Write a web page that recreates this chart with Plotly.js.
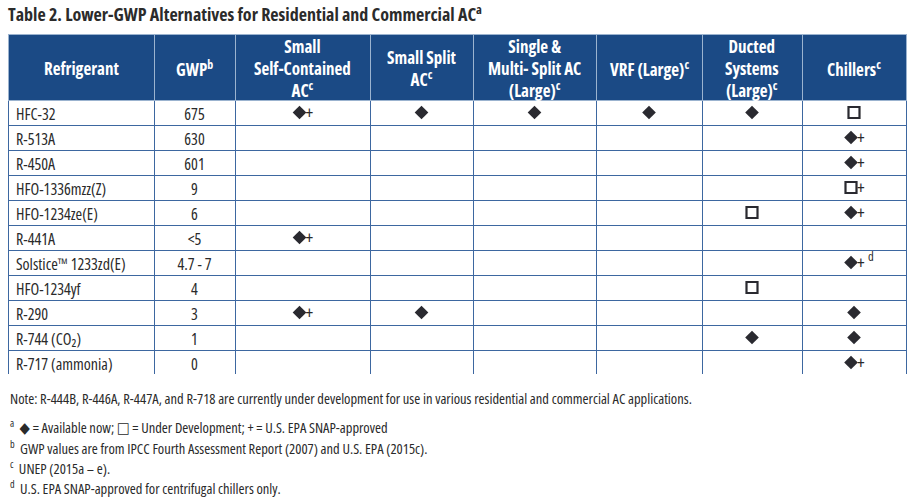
<!DOCTYPE html>
<html>
<head>
<meta charset="utf-8">
<script src="https://cdn.plot.ly/plotly-3.0.1.min.js"></script>
<style>
html,body{margin:0;padding:0;background:#fff;}
#chart{width:912px;height:500px;}
text{font-stretch:75% !important;}
text.cell-text, .cell-text text{font-stretch:87.5% !important;}
</style>
</head>
<body>
<div id="chart"></div>
<script>
// ---- data ----
const headers = ["Refrigerant", "GWP<sup>b</sup>", "Small<br>Self-Contained<br>AC<sup>c</sup>", "Small Split<br>AC<sup>c</sup>",
  "Single &amp;<br>Multi- Split AC<br>(Large)<sup>c</sup>", "VRF (Large)<sup>c</sup>", "Ducted<br>Systems<br>(Large)<sup>c</sup>", "Chillers<sup>c</sup>"];
const refrigerants = ["HFC-32", "R-513A", "R-450A", "HFO-1336mzz(Z)", "HFO-1234ze(E)", "R-441A",
  "Solstice™ 1233zd(E)", "HFO-1234yf", "R-290", "R-744 (CO₂)", "R-717 (ammonia)"];
const gwp = ["675", "630", "601", "9", "6", "<5", "4.7 - 7", "4", "3", "1", "0"];
// ◆ = available now, □ = under development, + = U.S. EPA SNAP-approved
const smallSelfContained = ["◆+", "", "", "", "", "◆+", "", "", "◆+", "", ""];
const smallSplit = ["◆", "", "", "", "", "", "", "", "◆", "", ""];
const singleMultiSplit = ["◆", "", "", "", "", "", "", "", "", "", ""];
const vrfLarge = ["◆", "", "", "", "", "", "", "", "", "", ""];
const ductedSystems = ["◆", "", "", "", "□", "", "", "□", "", "◆", ""];
const chillers = ["□", "◆+", "◆+", "□+", "◆+", "", "◆+<sup>d</sup>", "", "◆", "◆", "◆+"];
const titleText = "Table 2. Lower-GWP Alternatives for Residential and Commercial AC<sup>a</sup>";
const notes = [
  "Note: R-444B, R-446A, R-447A, and R-718 are currently under development for use in various residential and commercial AC applications.",
  "<sup>a</sup>  ◆ = Available now; □ = Under Development; + = U.S. EPA SNAP-approved",
  "<sup>b</sup>  GWP values are from IPCC Fourth Assessment Report (2007) and U.S. EPA (2015c).",
  "<sup>c</sup>  UNEP (2015a – e).",
  "<sup>d</sup>  U.S. EPA SNAP-approved for centrifugal chillers only."
];

// ---- chart ----
const W = 912, H = 500;
const FONT = "Open Sans, Roboto, sans-serif";
const INK = "#2a2a2a";
const columnWidths = [146, 81, 135, 103, 123, 106, 100, 104];
const tableLeft = 8, tableRight = 906, headerTop = 34, headerH = 66, rowH = 25;
const nRows = refrigerants.length;
const tableBottom = headerTop + headerH + rowH * nRows;
const totalW = columnWidths.reduce((a, b) => a + b, 0);
const colStart = columnWidths.map((w, i) => columnWidths.slice(0, i).reduce((a, b) => a + b, 0));
const colCenter = columnWidths.map((w, i) => colStart[i] + w / 2);

const markColumns = [smallSelfContained, smallSplit, singleMultiSplit, vrfLarge, ductedSystems, chillers];

// a leading "<" goes in the cell prefix so the table shows it as plain text
const gwpPrefix = gwp.map(v => v.charAt(0) === "<" ? "<" : "");
const gwpBody = gwp.map(v => v.charAt(0) === "<" ? v.slice(1) : v);

const table = {
  type: "table",
  domain: {x: [tableLeft / W, tableRight / W], y: [1 - tableBottom / H, 1 - headerTop / H]},
  columnwidth: columnWidths,
  header: {
    values: headers.map(() => ""),
    height: headerH,
    fill: {color: "#1b4a85"},
    line: {color: "#9bb3cf", width: 1},
    font: {family: FONT, size: 16, color: "#ffffff"}
  },
  cells: {
    values: [refrigerants, gwpBody].concat(markColumns.map(c => c.map(() => ""))),
    prefix: [refrigerants.map(() => ""), gwpPrefix].concat(markColumns.map(c => c.map(() => ""))),
    align: ["left", "center", "center", "center", "center", "center", "center", "center"],
    height: rowH,
    fill: {color: "rgba(255,255,255,0)"},
    line: {color: "#3d67a0", width: 1},
    font: {family: FONT, size: 16, color: INK}
  }
};

// availability marks, placed through the hidden axes (x in table width units, y in rows)
const dia = {x: [], y: []}, sq = {x: [], y: []}, plus = {x: [], y: [], text: []};
markColumns.forEach((col, j) => {
  const cx = colCenter[j + 2];
  col.forEach((v, r) => {
    if (!v) return;
    const hasPlus = v.indexOf("+") >= 0;
    const target = v.indexOf("◆") >= 0 ? dia : sq;
    target.x.push(hasPlus ? cx - 3 : cx);
    target.y.push(r + 0.5);
    if (hasPlus) {
      plus.x.push(cx + 3);
      plus.y.push(r + 0.58);
      plus.text.push(v.slice(v.indexOf("+")).replace("+<sup>", "+ <sup>"));
    }
  });
});

const diamonds = {
  type: "scatter", mode: "markers", x: dia.x, y: dia.y, xaxis: "x", yaxis: "y",
  marker: {symbol: "diamond", size: 10.5, color: "#2a2a30", line: {width: 0}}, hoverinfo: "skip"
};
const squares = {
  type: "scatter", mode: "markers", x: sq.x, y: sq.y, xaxis: "x", yaxis: "y",
  marker: {symbol: "square-open", size: 11, color: "#2a2a30", line: {width: 2.2}}, hoverinfo: "skip"
};
const plusses = {
  type: "scatter", mode: "text", x: plus.x, y: plus.y, text: plus.text, xaxis: "x", yaxis: "y",
  textposition: "middle right", textfont: {family: FONT, size: 18, color: INK}, hoverinfo: "skip"
};

// header labels centred in each column
const headerAnn = headers.map((h, i) => ({
  text: "<b>" + h + "</b>", xref: "paper", yref: "paper",
  x: (tableLeft + colCenter[i] * (tableRight - tableLeft) / totalW) / W,
  y: 1 - (headerTop + headerH / 2 + 1) / H,
  xanchor: "center", yanchor: "middle", showarrow: false, align: "center",
  font: {family: FONT, size: 17, color: "#ffffff"}
}));

function glyphs(s, size) {
  return s.replace(/◆/g, '<span style="font-family:DejaVu Sans;font-size:' + size + 'px">◆</span>')
          .replace(/□/g, '<b><span style="font-family:DejaVu Sans;font-size:' + size + 'px">□</span></b>');
}
const noteY = [398, 426, 447, 467, 487];
const noteAnn = notes.map((t, i) => ({
  text: glyphs(t, 15), xref: "paper", yref: "paper", x: 8 / W, y: 1 - noteY[i] / H,
  xanchor: "left", yanchor: "middle", showarrow: false, align: "left",
  font: {family: FONT, size: 14.5, color: INK}
}));

const layout = {
  width: W, height: H,
  margin: {l: 0, r: 0, t: 0, b: 0},
  paper_bgcolor: "#ffffff",
  plot_bgcolor: "rgba(0,0,0,0)",
  xaxis: {domain: [tableLeft / W, tableRight / W], range: [0, totalW], visible: false, fixedrange: true},
  yaxis: {domain: [1 - tableBottom / H, 1 - (headerTop + headerH) / H], range: [nRows, 0], visible: false, fixedrange: true},
  title: {
    text: "<b>" + titleText + "</b>", x: 8 / W, xanchor: "left", xref: "paper",
    y: 1 - 15 / H, yanchor: "middle", yref: "container",
    font: {family: FONT, size: 18, color: "#2b2b2b"}
  },
  annotations: headerAnn.concat(noteAnn),
  showlegend: false
};

Plotly.newPlot("chart", [table, diamonds, squares, plusses], layout, {displayModeBar: false, staticPlot: true});
</script>
</body>
</html>
